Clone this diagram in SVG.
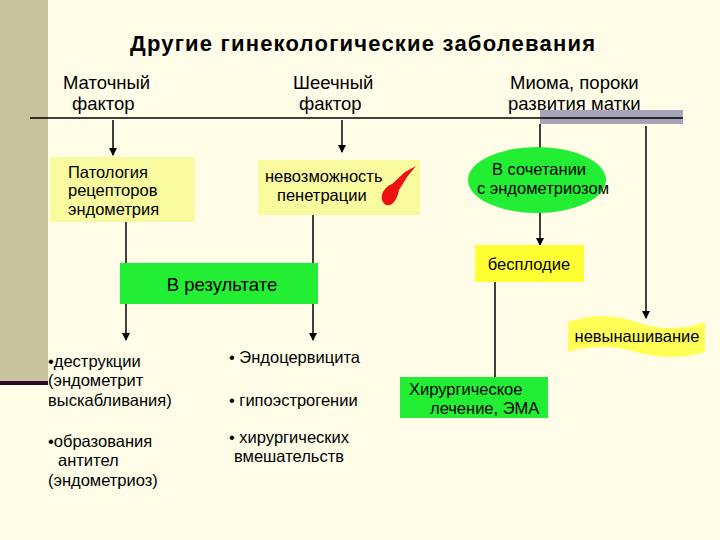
<svg xmlns="http://www.w3.org/2000/svg" width="720" height="540" viewBox="0 0 720 540">
<style>
text{font-family:"Liberation Sans",Arial,sans-serif;fill:#000}
.h{font-size:18.5px}
.t{font-size:16.5px}
.c{stroke:#000;stroke-width:1.5;fill:none}
.y{fill:#fafa9e}
.g{fill:#22ee33}
</style>
<defs><marker id="a" markerWidth="8" markerHeight="8" refX="7" refY="4" orient="auto" markerUnits="userSpaceOnUse"><path d="M0,0L8,4L0,8z" fill="#000"/></marker></defs>
<rect width="720" height="540" fill="#fffde8"/>
<rect x="0" y="0" width="48" height="383" fill="#c8c39c"/>
<rect x="0" y="381" width="48" height="4" fill="#2a0a2a"/>
<rect x="540" y="110" width="143" height="14" fill="#a8a4b8"/>
<text x="130" y="51" textLength="465" style="font-size:22px;font-weight:bold">Другие гинекологические заболевания</text>
<g id="n1"><text class="h" x="63" y="89">Маточный</text><text class="h" x="72" y="110">фактор</text></g>
<g id="n2"><text class="h" x="293" y="89">Шеечный</text><text class="h" x="299" y="110">фактор</text></g>
<g id="n3"><text class="h" x="510" y="89">Миома, пороки</text><text class="h" x="508" y="110">развития матки</text></g>
<g id="connectors">
<line class="c" x1="30" y1="118" x2="683" y2="118"/>
<line class="c" x1="113" y1="120" x2="113" y2="155" marker-end="url(#a)"/>
<line class="c" x1="342" y1="120" x2="342" y2="152" marker-end="url(#a)"/>
<line class="c" x1="540" y1="124" x2="540" y2="245" marker-end="url(#a)"/>
<line class="c" x1="646" y1="126" x2="646" y2="318" marker-end="url(#a)"/>
<line class="c" x1="126" y1="222" x2="126" y2="263"/>
<line class="c" x1="313" y1="215" x2="313" y2="263"/>
<line class="c" x1="126" y1="304" x2="126" y2="340" marker-end="url(#a)"/>
<line class="c" x1="313" y1="304" x2="313" y2="340" marker-end="url(#a)"/>
<line class="c" x1="495" y1="282" x2="495" y2="377"/>
</g>
<g id="n4"><rect class="y" x="50" y="157" width="145" height="65"/><text class="t" x="68" y="178">Патология</text><text class="t" x="68" y="196">рецепторов</text><text class="t" x="68" y="215">эндометрия</text></g>
<g id="n5"><rect class="y" x="258" y="160" width="162" height="55"/><text class="t" x="265" y="182">невозможность</text><text class="t" x="277" y="201">пенетрации</text>
<path d="M386,205 C378,200 382,188 392,184 L405,172 L416,166 L407,177 L399,190 C397,200 392,207 386,205Z" fill="#ee1111"/></g>
<g id="n6"><ellipse class="g" cx="537" cy="180" rx="69" ry="33"/><text class="t" x="539" y="175" text-anchor="middle">В сочетании</text><text class="t" x="543" y="194" text-anchor="middle">с эндометриозом</text></g>
<g id="n7"><rect fill="#ffff33" x="475" y="245" width="109" height="37"/><text class="t" x="529" y="270" text-anchor="middle">бесплодие</text></g>
<g id="n8"><rect class="g" x="120" y="263" width="198" height="41"/><text class="h" x="222" y="291" text-anchor="middle">В результате</text></g>
<g id="n9"><path d="M568,322 Q602,310 636,322 T705,322 L705,352 Q671,362 636,352 T568,352Z" fill="#ffff55"/><text class="t" x="637" y="342" text-anchor="middle">невынашивание</text></g>
<g id="n10"><rect class="g" x="400" y="377" width="148" height="41"/><text class="t" x="409" y="395">Хирургическое</text><text class="t" x="430" y="414">лечение, ЭМА</text></g>
<g id="n11"><text class="t" x="48" y="367">•деструкции</text><text class="t" x="48" y="386">(эндометрит</text><text class="t" x="48" y="406">выскабливания)</text>
<text class="t" x="48" y="447">•образования</text><text class="t" x="58" y="466">антител</text><text class="t" x="48" y="486">(эндометриоз)</text></g>
<g id="n12"><text class="t" x="229" y="363">• Эндоцервицита</text><text class="t" x="229" y="406">• гипоэстрогении</text><text class="t" x="229" y="443">• хирургических</text><text class="t" x="234" y="462">вмешательств</text></g>
</svg>
